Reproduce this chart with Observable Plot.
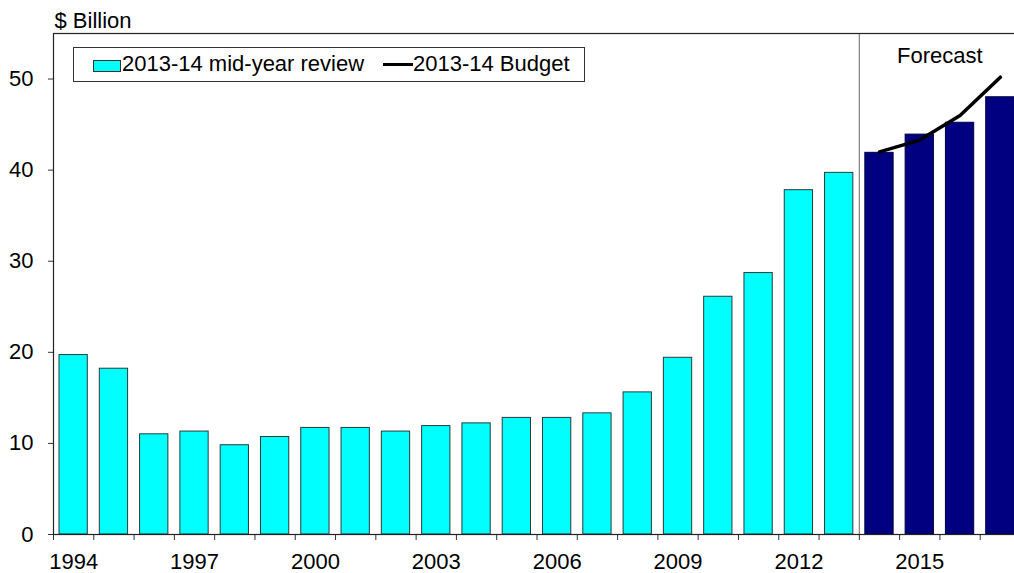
<!DOCTYPE html>
<html><head><meta charset="utf-8">
<script src="https://cdn.jsdelivr.net/npm/d3@7"></script>
<script src="https://cdn.jsdelivr.net/npm/@observablehq/plot@0.6"></script>
<style>
html,body{margin:0;padding:0;overflow:hidden;background:#fff;}
#wrap{position:relative;width:1014px;height:573px;overflow:hidden;font-family:"Liberation Sans",Arial,sans-serif;color:#000;}
#chart svg{max-width:none !important;display:block;}
#legend{position:absolute;left:73px;top:47px;width:510px;height:33px;border:1px solid #333;background:#fff;font-size:22px;}
#legend .sw{position:absolute;left:19px;top:12px;width:26px;height:10px;background:#00FFFF;border:1px solid #333;}
#legend .t1{position:absolute;left:48px;top:4px;white-space:nowrap;line-height:24px;}
#legend .ln{position:absolute;left:309px;top:15px;width:30px;height:3px;background:#000;}
#legend .t2{position:absolute;left:339px;top:4px;white-space:nowrap;line-height:24px;}
</style></head>
<body><div id="wrap"><div id="chart"></div>
<div id="legend"><div class="sw"></div><div class="t1">2013-14 mid-year review</div><div class="ln"></div><div class="t2">2013-14 Budget</div></div>
</div>
<script>
const reviewYears = [1994,1995,1996,1997,1998,1999,2000,2001,2002,2003,2004,2005,2006,2007,2008,2009,2010,2011,2012,2013];
const reviewValues = [19.7,18.2,11.0,11.3,9.8,10.7,11.7,11.7,11.3,11.9,12.2,12.8,12.8,13.3,15.6,19.4,26.1,28.7,37.8,39.7];
const forecastYears = [2014,2015,2016,2017];
const forecastValues = [41.9,43.9,45.2,48.0];
const budgetYears = [2014,2015,2016,2017];
const budgetValues = [42.0,43.3,46.0,50.2];
const yTicks = [0,10,20,30,40,50];
const xLabelYears = [1994,1997,2000,2003,2006,2009,2012,2015];
const forecastLabel = "Forecast";
const yUnit = "$ Billion";

const review = reviewYears.map((y,i)=>({year:y, value:reviewValues[i]}));
const forecast = forecastYears.map((y,i)=>({year:y, value:forecastValues[i]}));
const budget = budgetYears.map((y,i)=>({year:y, value:budgetValues[i]}));
const allYears = reviewYears.concat(forecastYears);
const x0 = d3.min(allYears) - 0.5, x1 = d3.max(allYears) + 0.5;
const boundaries = d3.range(x0, x1 + 0.01, 1);
const forecastMid = d3.mean(forecastYears);

const chart = Plot.plot({
  width: 1020, height: 573,
  marginLeft: 53, marginRight: 0, marginTop: 33, marginBottom: 39,
  style: {fontFamily: '"Liberation Sans", Arial, sans-serif', fontSize: "22px", color: "#000", background: "#fff", overflow: "visible"},
  x: {type: "linear", domain: [x0, x1]},
  y: {domain: [0, 55]},
  marks: [
    Plot.rectY(review, {x1: d=>d.year-0.5, x2: d=>d.year+0.5, y: "value", fill: "#00FFFF", stroke: "#2a3a3a", strokeWidth: 1, insetLeft: 6, insetRight: 6}),
    Plot.rectY(forecast, {x1: d=>d.year-0.5, x2: d=>d.year+0.5, y: "value", fill: "#000080", stroke: "#000040", strokeWidth: 1, insetLeft: 6, insetRight: 6}),
    Plot.ruleX([d3.min(forecastYears) - 0.5], {stroke: "#808080", strokeWidth: 1.2}),
    Plot.line(budget, {x: "year", y: "value", stroke: "#000", strokeWidth: 3.5}),
    Plot.text([forecastLabel], {frameAnchor: "top", x: forecastMid, text: d=>d, lineAnchor: "middle", dy: 22, fontSize: 22}),
    Plot.text([yUnit], {frameAnchor: "top-left", text: d=>d, dx: 1, dy: -13, lineAnchor: "middle", textAnchor: "start", fontSize: 22}),
    Plot.axisY({ticks: yTicks, tickSize: 5, tickPadding: 15, label: null, fontSize: 22, stroke: "#333"}),
    Plot.axisX({ticks: boundaries, tickSize: 6, tickFormat: () => "", label: null, stroke: "#333"}),
    Plot.axisX({ticks: xLabelYears, tickSize: 0, tickPadding: 19, tickFormat: d => String(d), label: null, fontSize: 22}),
    Plot.frame({stroke: "#222", strokeWidth: 1.2})
  ]
});
document.getElementById("chart").appendChild(chart);
</script>
</body></html>
